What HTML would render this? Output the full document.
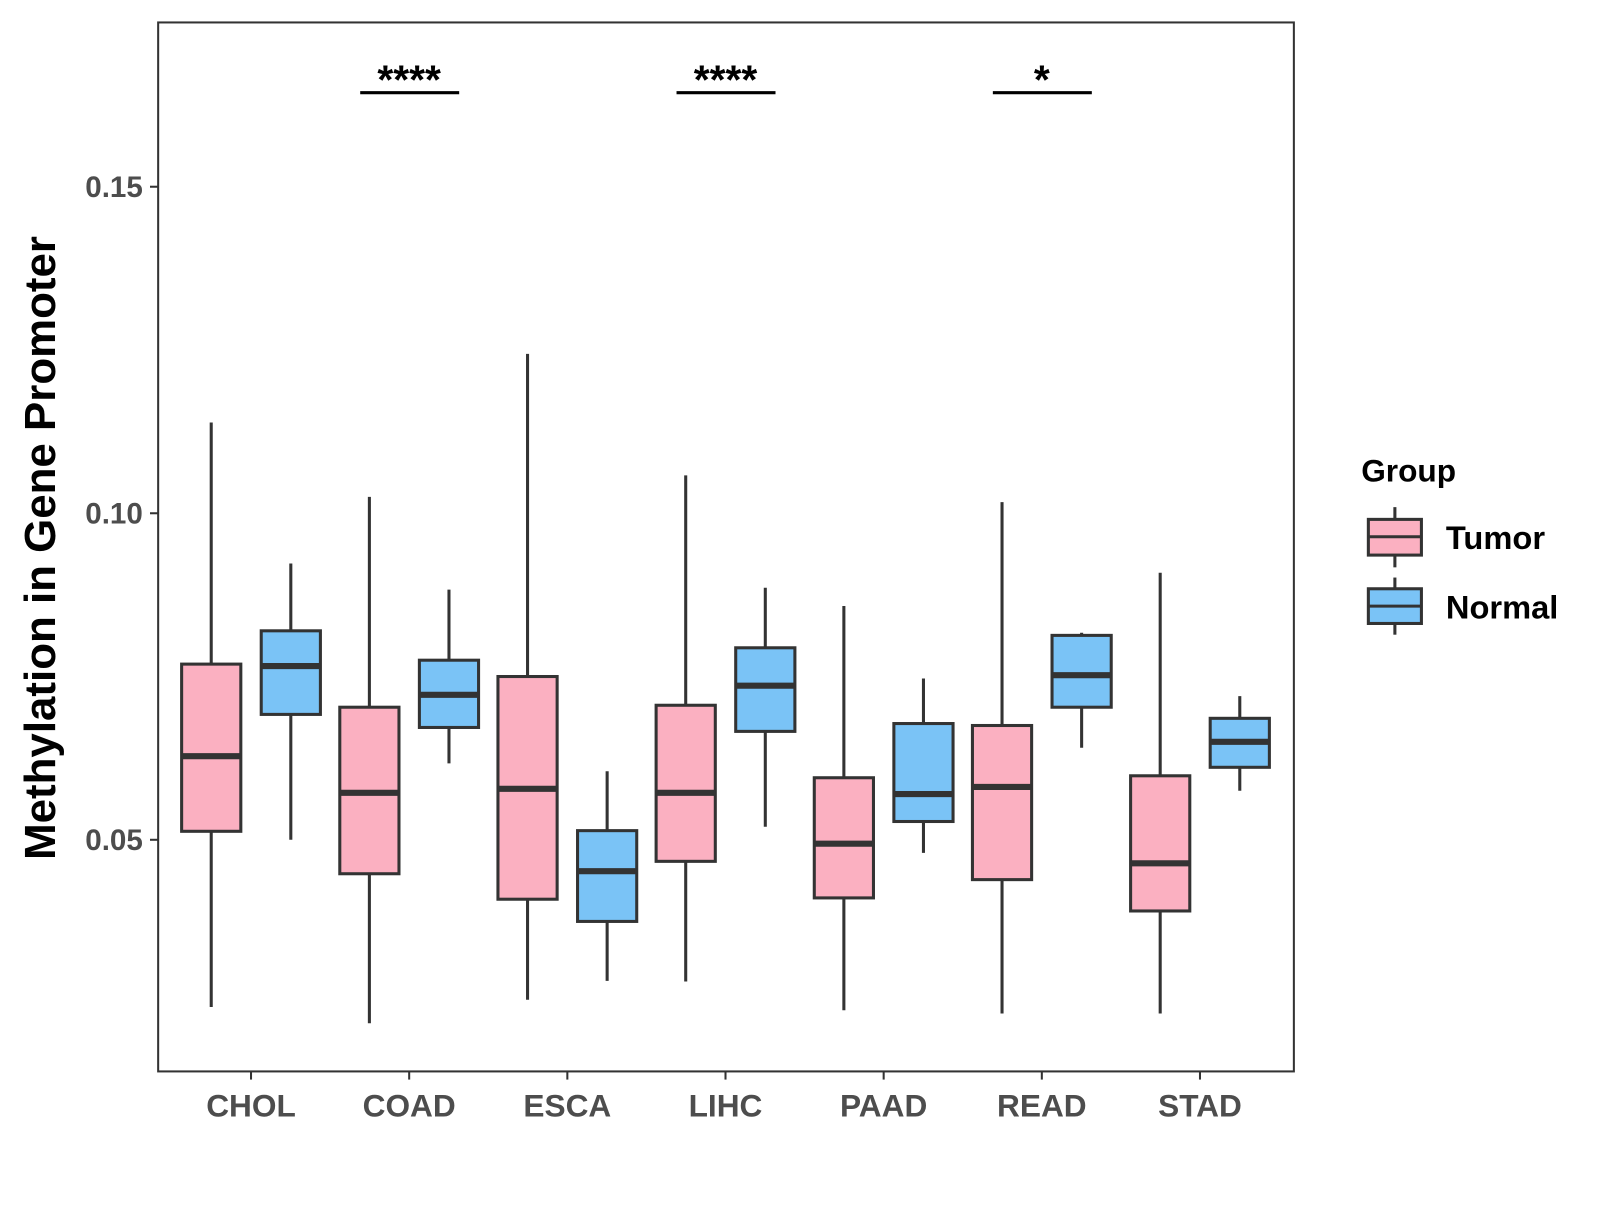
<!DOCTYPE html>
<html><head><meta charset="utf-8"><style>
body{margin:0;background:#fff}
svg text{font-family:"Liberation Sans",Arial,sans-serif;font-weight:bold}
</style></head><body>
<svg id="chart" width="1600" height="1200">
<g transform="scale(1.0204)">
<rect x="155" y="22" width="1113" height="1028" fill="#fff" stroke="#333" stroke-width="2"/>
<g id="marks"></g>
<g id="axes"></g>
<text x="0" y="0" transform="translate(54,537) rotate(-90)" text-anchor="middle" font-size="43" fill="#000">Methylation in Gene Promoter</text>
<g>
<text x="1334" y="472" font-size="31" fill="#000">Group</text>
<g>
<line x1="1367" y1="497" x2="1367" y2="556" stroke="#333" stroke-width="3"/>
<rect x="1341" y="509" width="52" height="35" fill="#FBB0C1" stroke="#333" stroke-width="3"/>
<line x1="1341" y1="526" x2="1393" y2="526" stroke="#333" stroke-width="3"/>
<text x="1417" y="538" font-size="32" fill="#000">Tumor</text></g>
<g>
<line x1="1367" y1="566" x2="1367" y2="622" stroke="#333" stroke-width="3"/>
<rect x="1341" y="577" width="52" height="34" fill="#7AC3F6" stroke="#333" stroke-width="3"/>
<line x1="1341" y1="594" x2="1393" y2="594" stroke="#333" stroke-width="3"/>
<text x="1417" y="606" font-size="32" fill="#000">Normal</text></g>
</g>
</g>
</svg>
<script>
const categories=["CHOL","COAD","ESCA","LIHC","PAAD","READ","STAD"];
// [max, q3, median, q1, min]
const tumorStats=[[0.1139,0.0769,0.0628,0.0513,0.0244],[0.1025,0.0703,0.0572,0.0448,0.0219],[0.1244,0.0750,0.0578,0.0409,0.0255],[0.1058,0.0706,0.0572,0.0467,0.0283],[0.0858,0.0595,0.0494,0.0411,0.0239],[0.1017,0.0675,0.0581,0.0439,0.0234],[0.0909,0.0598,0.0464,0.0391,0.0234]];
const normalStats=[[0.0923,0.0820,0.0766,0.0692,0.0500],[0.0883,0.0775,0.0722,0.0672,0.0617],[0.0605,0.0514,0.0452,0.0375,0.0284],[0.0886,0.0794,0.0736,0.0666,0.0520],[0.0747,0.0678,0.0570,0.0528,0.0480],[0.0817,0.0813,0.0752,0.0703,0.0641],[0.0720,0.0686,0.0650,0.0611,0.0575]];
const yTicks=[0.05,0.10,0.15];
const yTickLabels=["0.05","0.10","0.15"];
const sigCategories=["COAD","LIHC","READ"];
const sigLabels=["****","****","*"];
const sigLevel=0.1644;

const NS="http://www.w3.org/2000/svg";
const y=v=>823-(v-0.05)*6400;
const x=i=>246+i*155;
const marks=document.getElementById('marks'),axes=document.getElementById('axes');
function mk(tag,attrs,parent){const e=document.createElementNS(NS,tag);for(const k in attrs)e.setAttribute(k,attrs[k]);parent.appendChild(e);return e;}
function box(cx,s,fill,name){
  const g=mk('g',{},marks);
  
  
  mk('line',{x1:cx,x2:cx,y1:y(s[0]),y2:y(s[4]),stroke:'#333','stroke-width':3},g);
  mk('rect',{x:cx-29,y:y(s[1]),width:58,height:y(s[3])-y(s[1]),fill:fill,stroke:'#333','stroke-width':3},g);
  mk('line',{x1:cx-29,x2:cx+29,y1:y(s[2]),y2:y(s[2]),stroke:'#333','stroke-width':6},g);
}
categories.forEach((c,i)=>{
  box(x(i)-39,tumorStats[i],'#FBB0C1','box-tumor-'+c.toLowerCase());
  box(x(i)+39,normalStats[i],'#7AC3F6','box-normal-'+c.toLowerCase());
  const t=mk('line',{x1:x(i),x2:x(i),y1:1050,y2:1058,stroke:'#333','stroke-width':2},axes);
  
  
  const l=mk('text',{x:x(i),y:1094,'text-anchor':'middle','font-size':31,fill:'#4d4d4d'},axes);
  l.textContent=c;
  
  
});
yTicks.forEach((v,i)=>{
  mk('line',{x1:147,x2:155,y1:y(v),y2:y(v),stroke:'#333','stroke-width':2},axes);
  const l=mk('text',{x:140,y:y(v)+10,'text-anchor':'end','font-size':29,fill:'#4d4d4d'},axes);
  l.textContent=yTickLabels[i];
  
  
});
sigCategories.forEach((c,k)=>{
  const i=categories.indexOf(c);
  const ln=mk('line',{x1:x(i)-48,x2:x(i)+49,y1:y(sigLevel),y2:y(sigLevel),stroke:'#000','stroke-width':3},marks);
  
  
  const t=mk('text',{x:x(i),y:y(sigLevel)+1,'text-anchor':'middle','font-size':40,fill:'#000'},marks);
  t.textContent=sigLabels[k];
  
  
});
</script>
</body></html>
